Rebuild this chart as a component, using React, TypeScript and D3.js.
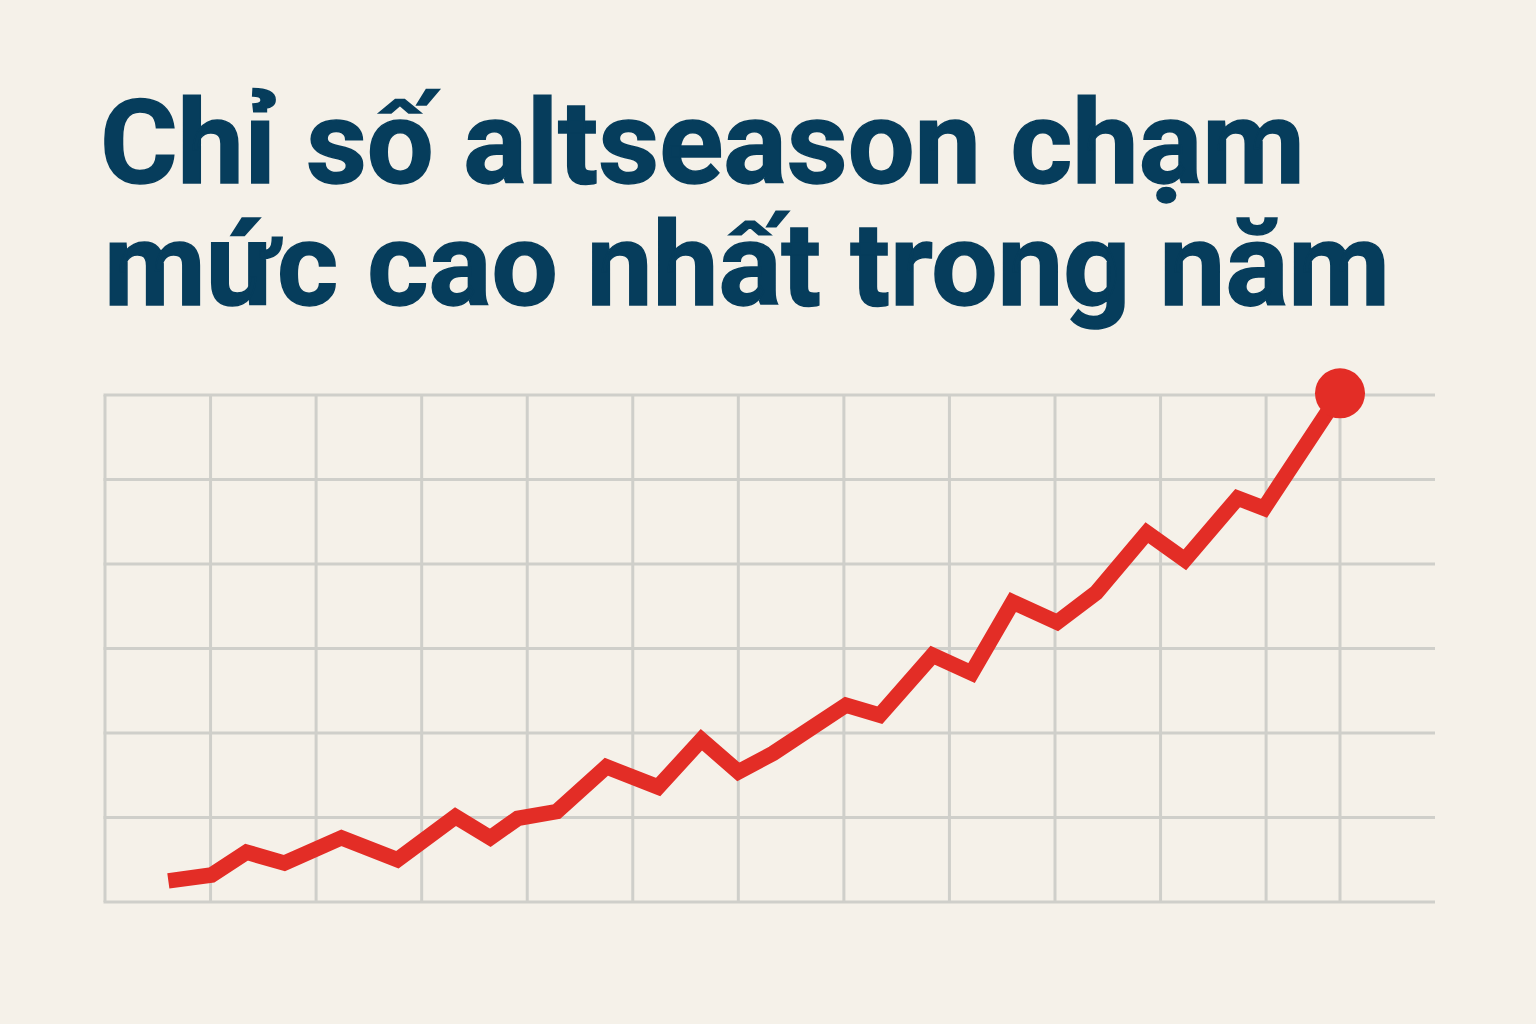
import React, { useEffect, useRef } from 'react';
import * as d3 from 'd3';

// index readings (x = month-ish cell, y = index value)
const monthPos = [0.6, 1.01, 1.34, 1.7, 2.24, 2.77, 3.32, 3.65, 3.91, 4.28, 4.75, 5.24, 5.65, 6.0, 6.33, 7.02, 7.34, 7.84, 8.21, 8.6, 9.02, 9.39, 9.87, 10.23, 10.73, 10.98, 11.7];
const indexValues = [2.5, 3.2, 5.9, 4.6, 7.6, 5.0, 10.1, 7.6, 9.9, 10.7, 16.0, 13.6, 19.2, 15.4, 17.6, 23.3, 22.1, 29.2, 27.1, 35.5, 33.1, 36.6, 43.7, 40.5, 47.8, 46.6, 60.2];

const xGridTicks = [0, 1, 2, 3, 4, 5, 6, 7, 8, 9, 10, 11, 11.7];
const yGridTicks = [0, 10, 20, 30, 40, 50, 60];

const titleLines = ['Chỉ số altseason chạm', 'mức cao nhất trong năm'];

const W = 1536;
const H = 1024;

export default function App() {
  const svgRef = useRef<SVGSVGElement>(null);

  useEffect(() => {
    if (!svgRef.current) return;
    const svg = d3.select(svgRef.current);
    svg.selectAll('*').remove();

    const x = d3.scaleLinear().domain([0, 12.6]).range([105, 1435]);
    const y = d3.scaleLinear().domain([0, 60]).range([902, 395]);

    svg.append('rect').attr('width', W).attr('height', H).attr('fill', '#f5f1e9');

    // title, stretched to the reference width
    const title = svg.append('g')
      .attr('fill', '#063d5c')
      .attr('stroke', '#063d5c')
      .attr('stroke-width', 1.5)
      .style('font-family', 'Roboto, "Noto Sans", sans-serif')
      .style('font-weight', 700)
      .style('font-size', '116px');
    title.append('text').attr('x', 100).attr('y', 183)
      .attr('textLength', 1205).attr('lengthAdjust', 'spacingAndGlyphs')
      .text(titleLines[0]);
    title.append('text').attr('x', 104).attr('y', 305)
      .attr('textLength', 1286).attr('lengthAdjust', 'spacingAndGlyphs')
      .text(titleLines[1]);

    // grid
    const grid = svg.append('g').attr('stroke', '#cfcfca').attr('stroke-width', 3);
    grid.selectAll('line.h')
      .data(yGridTicks)
      .enter()
      .append('line')
      .attr('class', 'h')
      .attr('x1', x(0) - 1.5)
      .attr('x2', x(12.6))
      .attr('y1', d => y(d))
      .attr('y2', d => y(d));
    grid.selectAll('line.v')
      .data(xGridTicks)
      .enter()
      .append('line')
      .attr('class', 'v')
      .attr('x1', d => x(d))
      .attr('x2', d => x(d))
      .attr('y1', y(60))
      .attr('y2', y(0));

    const pts: [number, number][] = monthPos.map((m, i) => [m, indexValues[i]]);
    const line = d3.line<[number, number]>()
      .x(d => x(d[0]))
      .y(d => y(d[1]));

    svg.append('path')
      .datum(pts)
      .attr('d', line)
      .attr('fill', 'none')
      .attr('stroke', '#e32d26')
      .attr('stroke-width', 15.5)
      .attr('stroke-linejoin', 'miter')
      .attr('stroke-linecap', 'butt');

    const last = pts[pts.length - 1];
    svg.append('circle')
      .attr('cx', x(last[0]))
      .attr('cy', y(last[1]))
      .attr('r', 25)
      .attr('fill', '#e32d26');
  }, []);

  return (
    <div style={{ position: 'fixed', left: 0, top: 0, width: W, height: H, background: '#f5f1e9' }}>
      <svg ref={svgRef} width={W} height={H}></svg>
    </div>
  );
}
